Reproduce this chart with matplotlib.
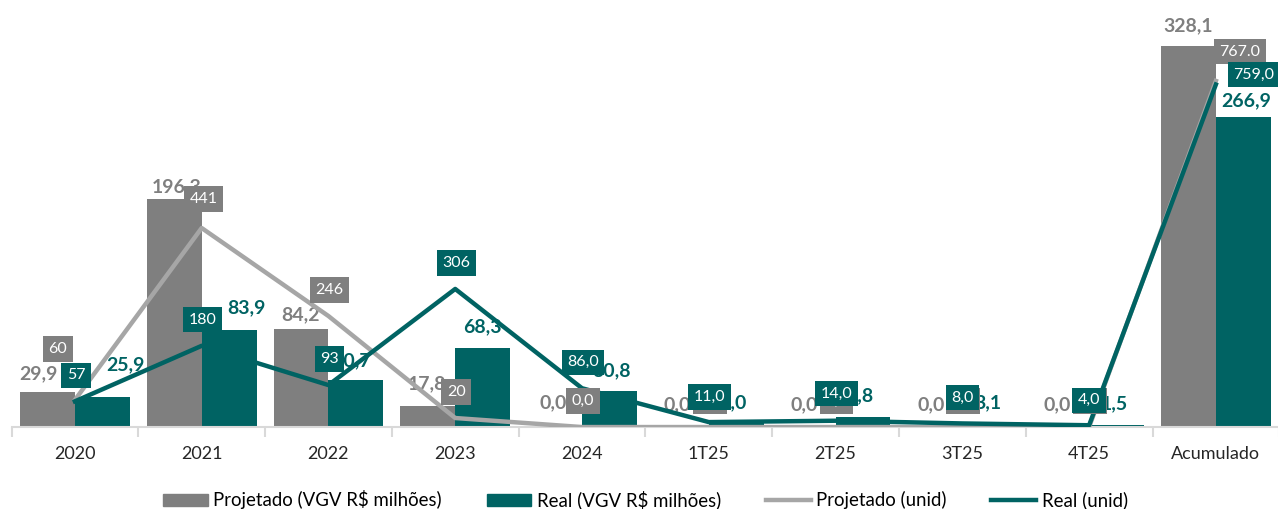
import matplotlib.pyplot as plt
import numpy as np
from matplotlib.patches import Patch
from matplotlib.lines import Line2D

plt.rcParams['font.family'] = ['Lato', 'DejaVu Sans']

# Data
categories = ['2020', '2021', '2022', '2023', '2024', '1T25', '2T25', '3T25', '4T25', 'Acumulado']
proj_vgv = [29.9, 196.3, 84.2, 17.8, 0.0, 0.0, 0.0, 0.0, 0.0, 328.1]
real_vgv = [25.9, 83.9, 40.7, 68.3, 30.8, 4.0, 8.8, 3.1, 1.5, 266.9]
proj_unid = [60, 441, 246, 20, 0, 0, 0, 0, 0, 767]
real_unid = [57, 180, 93, 306, 86, 11, 14, 8, 4, 759]
proj_unid_txt = ['60', '441', '246', '20', '0,0', '0,0', '0,0', '0,0', '0,0', '767.0']
real_unid_txt = ['57', '180', '93', '306', '86,0', '11,0', '14,0', '8,0', '4,0', '759,0']

GRAY = '#7f7f7f'
TEAL = '#006363'
LGRAY = '#a6a6a6'

# label offsets (pixels)
proj_bar_off = [(-9, 19), (2, 12), (0, 15), (-1, 23), (-1, 24), (-4, 22), (-4, 22), (-4, 22), (-4, 22), (0, 21)]
real_bar_off = [(23, 32), (17, 22), (-4, 19), (0, 21), (2, 21), (-3, 20), (-3, 21), (-2, 21), (-2, 22), (3, 17)]
proj_box_off = [(-17, 51), (2, 29), (1, 26), (1, 26), (1, 26), (1, 26), (1, 26), (1, 26), (1, 26), (24, 29)]
real_box_off = [(1, 26), (1, 26), (1, 26), (1, 26), (1, 26), (1, 25), (1, 27), (0, 26), (0, 25), (38, 10)]

fig = plt.figure(figsize=(12.78, 5.09), dpi=100)
ax = fig.add_axes([0.009, 0.161, 0.992, 0.798])
ax2 = ax.twinx()

x = np.arange(len(categories))
w = 0.433
ax.bar(x - w / 2, proj_vgv, w, color=GRAY, zorder=2)
ax.bar(x + w / 2, real_vgv, w, color=TEAL, zorder=2)
ax.set_ylim(0, 350)
ax.set_xlim(-0.5, len(categories) - 0.5)

ax2.plot(x, proj_unid, color=LGRAY, lw=3.2, zorder=3, solid_joinstyle='round')
ax2.plot(x, real_unid, color=TEAL, lw=3.2, zorder=4, solid_joinstyle='round')
ax2.set_ylim(0, 900)

def fmt(v):
    return f'{v:.1f}'.replace('.', ',')

for i in range(len(categories)):
    ax.annotate(fmt(proj_vgv[i]), (x[i] - w / 2, proj_vgv[i]), xytext=proj_bar_off[i],
                textcoords='offset pixels', ha='center', va='center',
                fontsize=14, fontweight='bold', color=GRAY, zorder=5)
    ax.annotate(fmt(real_vgv[i]), (x[i] + w / 2, real_vgv[i]), xytext=real_bar_off[i],
                textcoords='offset pixels', ha='center', va='center',
                fontsize=14, fontweight='bold', color=TEAL, zorder=5)

for i in range(len(categories)):
    ax2.annotate(proj_unid_txt[i], (x[i], proj_unid[i]), xytext=proj_box_off[i],
                 textcoords='offset pixels', ha='center', va='center', fontsize=11.5,
                 color='white', zorder=6,
                 bbox=dict(boxstyle='square,pad=0.35', fc=GRAY, ec='none'))
for i in range(len(categories)):
    ax2.annotate(real_unid_txt[i], (x[i], real_unid[i]), xytext=real_box_off[i],
                 textcoords='offset pixels', ha='center', va='center', fontsize=11.5,
                 color='white', zorder=7,
                 bbox=dict(boxstyle='square,pad=0.35', fc=TEAL, ec='none'))

for a in (ax, ax2):
    for s in ['top', 'right', 'left']:
        a.spines[s].set_visible(False)
    a.set_yticks([])
ax2.spines['bottom'].set_visible(False)
ax.spines['bottom'].set_color('#d9d9d9')
ax.spines['bottom'].set_linewidth(1.5)

ax.set_xticks(x)
ax.set_xticklabels(categories, fontsize=13, color='#262626')
ax.tick_params(axis='x', which='major', length=0, pad=14)
ax.set_xticks(np.arange(-0.5, len(categories)), minor=True)
ax.tick_params(axis='x', which='minor', length=7, width=1.5, color='#d9d9d9')

handles = [Patch(color=GRAY), Patch(color=TEAL),
           Line2D([], [], color=LGRAY, lw=3.2), Line2D([], [], color=TEAL, lw=3.2)]
labels = ['Projetado (VGV R$ milhões)', 'Real (VGV R$ milhões)', 'Projetado (unid)', 'Real (unid)']
fig.legend(handles, labels, loc='center', bbox_to_anchor=(0.505, 0.018), ncol=4,
           frameon=False, fontsize=13.4, handlelength=2.4, handleheight=0.6,
           handletextpad=0.3, columnspacing=2.4)

fig.savefig('out.png', dpi=100)
